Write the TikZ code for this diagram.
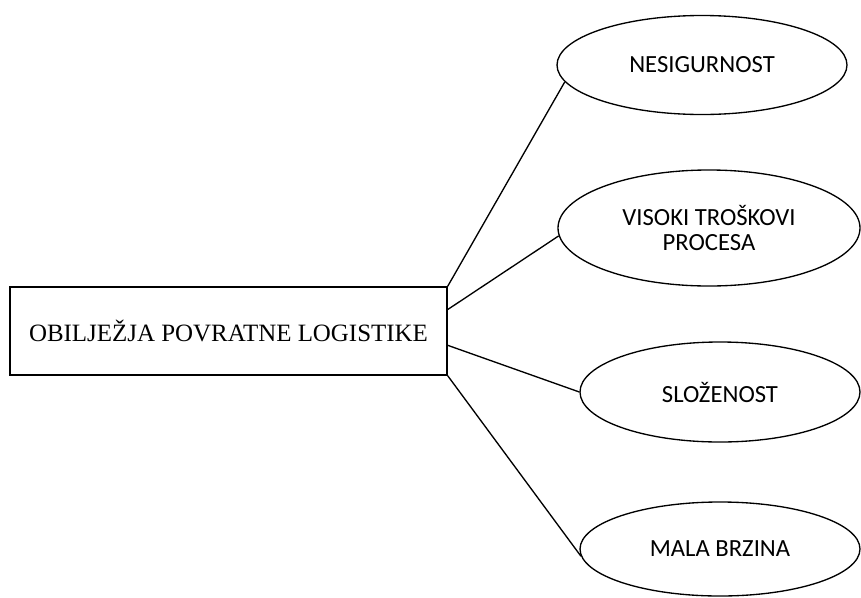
\documentclass[tikz,border=0pt]{standalone}
\usepackage{fontspec}
\setmainfont{Liberation Serif}
\newfontfamily\labelfont{Carlito}
\usetikzlibrary{shapes.geometric,calc}
\begin{document}
\begin{tikzpicture}[x=0.75pt,y=-0.75pt,
  mainbox/.style={draw,line width=1pt,rectangle,inner sep=0pt,
    minimum width=437*0.75pt,minimum height=88*0.75pt,font=\fontsize{18.7}{22}\selectfont},
  oval/.style={draw,line width=1pt,ellipse,inner sep=0pt,align=center,
    font=\labelfont\fontsize{18.5}{19}\selectfont},
  link/.style={line width=1pt}]
\useasboundingbox (0,0) rectangle (861,597);

\node[mainbox] (box) at (228.5,331) {OBILJEŽJA POVRATNE LOGISTIKE};

\node[oval,minimum width=290*0.75pt,minimum height=99*0.75pt] (e1) at (702,65) {NESIGURNOST};
\node[oval,minimum width=302*0.75pt,minimum height=116*0.75pt] (e2) at (709,228) {VISOKI TROŠKOVI\\PROCESA};
\node[oval,minimum width=280*0.75pt,minimum height=100*0.75pt] (e3) at (720,392) {SLOŽENOST};
\node[oval,minimum width=280*0.75pt,minimum height=94*0.75pt] (e4) at (720,549) {MALA BRZINA};

\draw[link] (box.north east) -- (e1.187);
\draw[link] ($(box.north east)!0.26!(box.south east)$) -- (e2.183);
\draw[link] ($(box.north east)!0.66!(box.south east)$) -- (e3.west);
\draw[link] (box.south east) -- (e4.183);
\end{tikzpicture}
\end{document}
